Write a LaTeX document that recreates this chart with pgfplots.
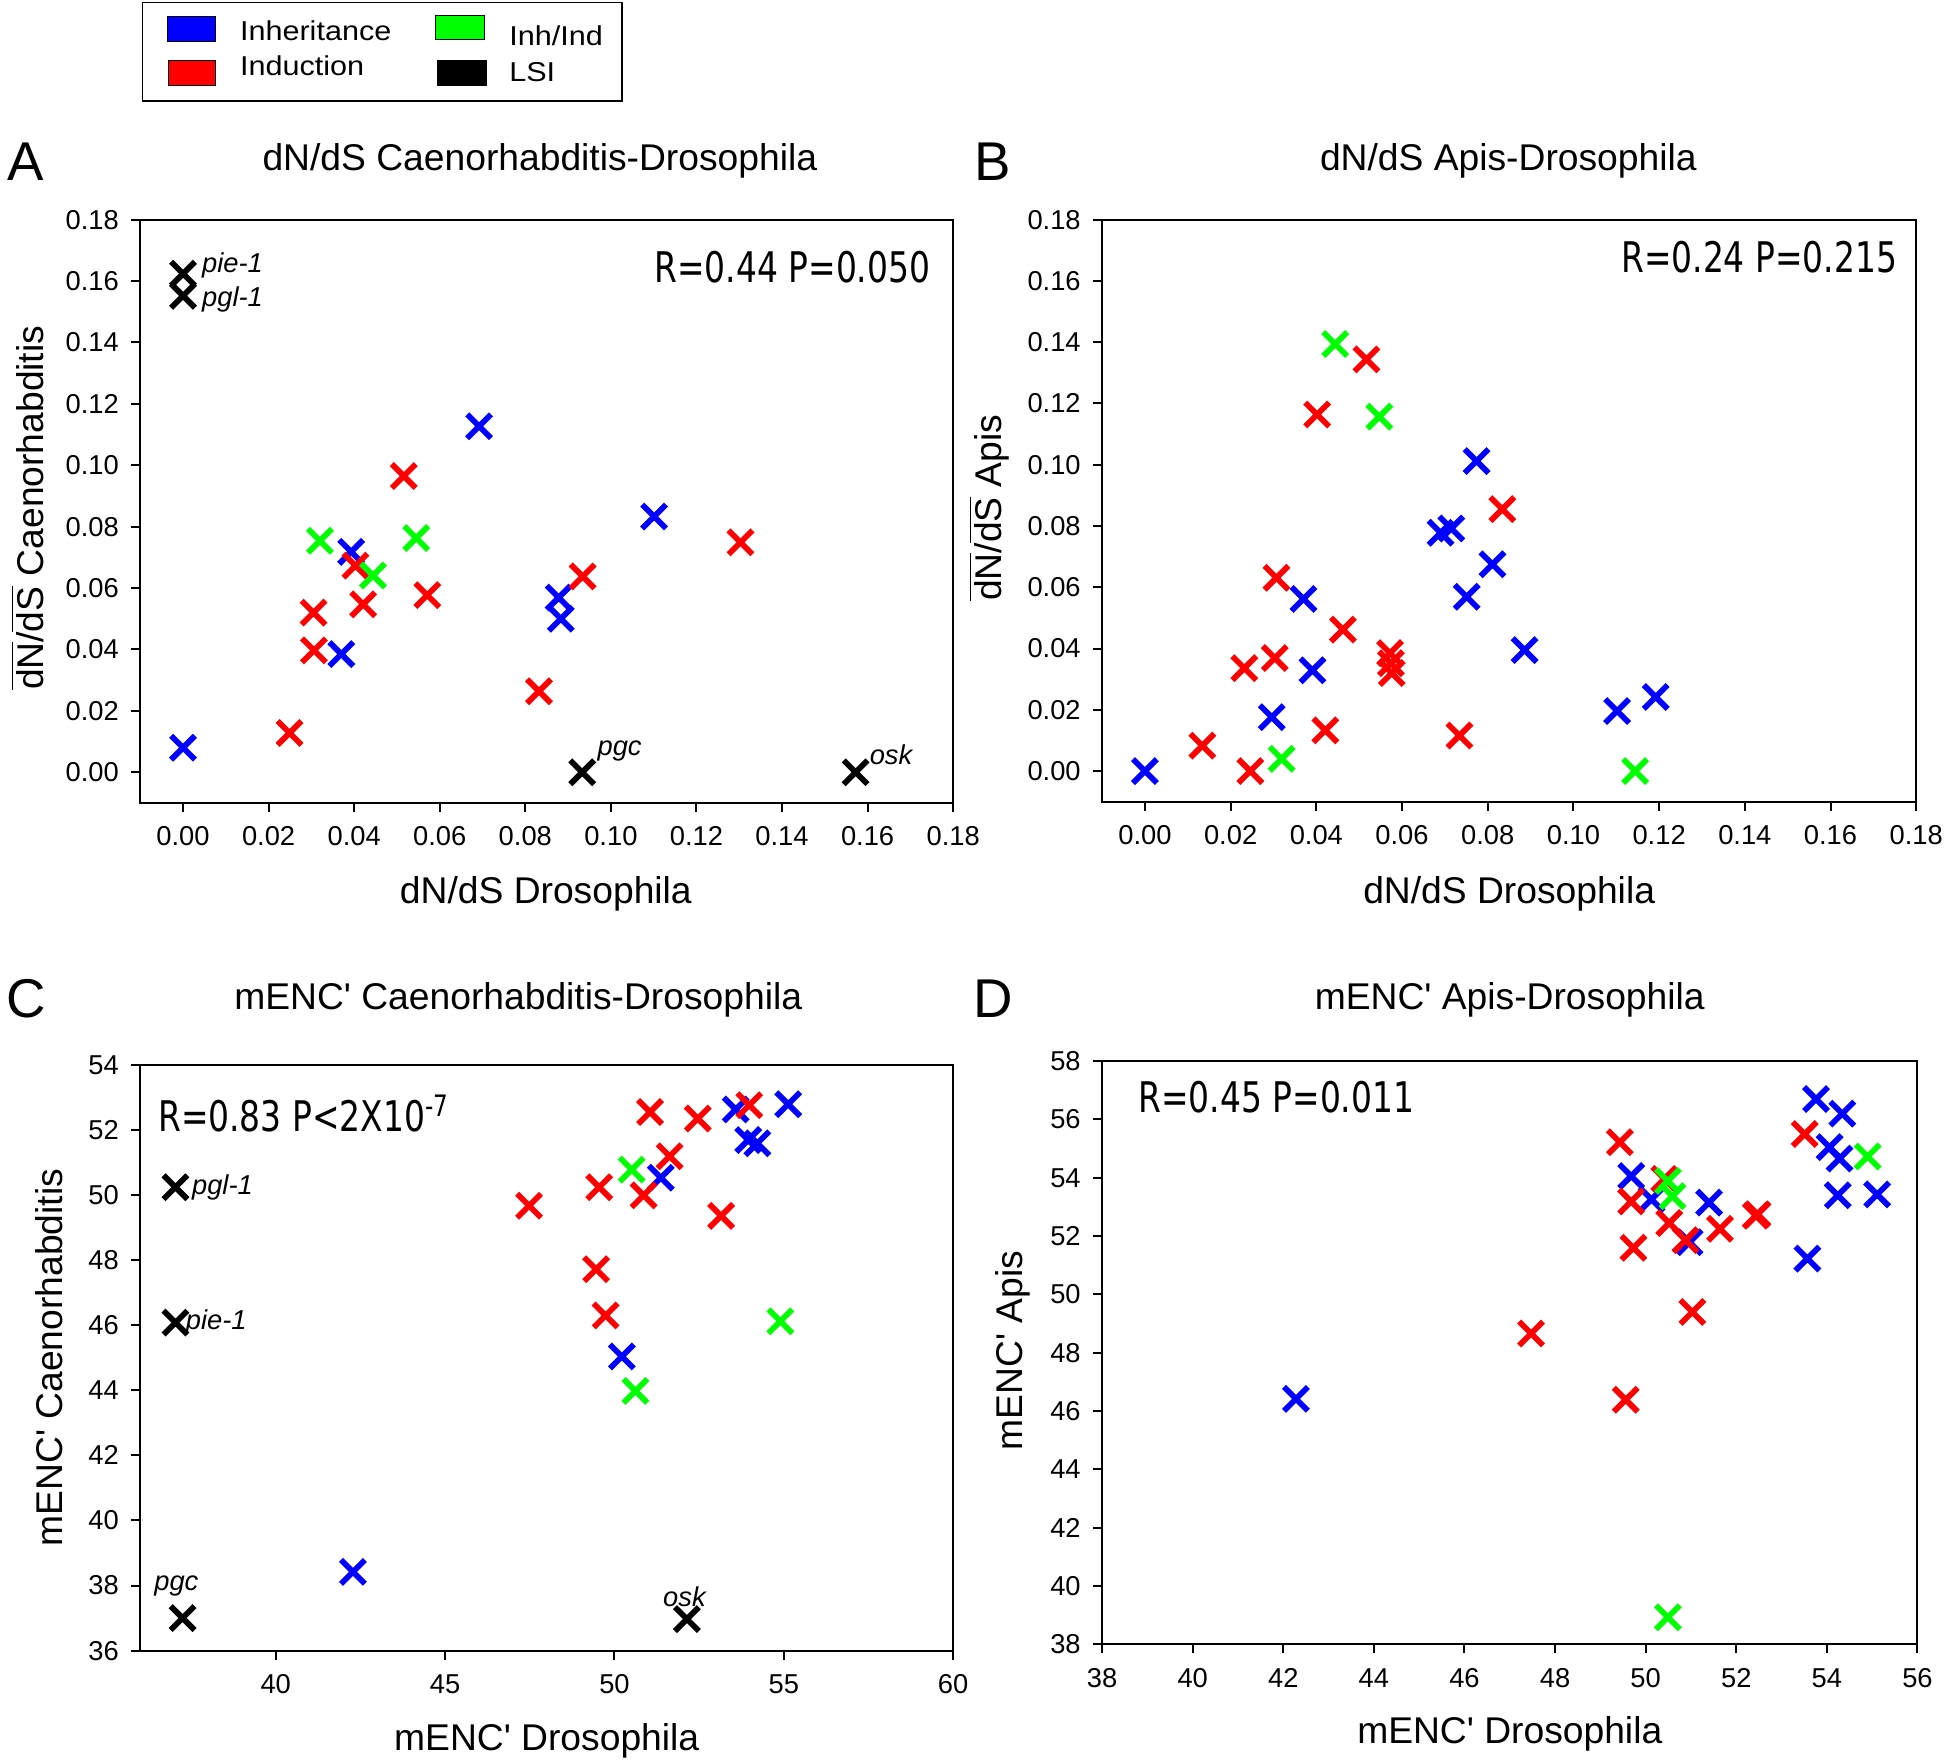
\documentclass[border=0pt]{standalone}
\usepackage{pgfplots}
\pgfplotsset{compat=1.18}
\usepackage{fontspec}
\setmainfont{Liberation Sans}[Ligatures=TeXOff]
\newfontfamily\rfont[FakeStretch=0.78]{DejaVu Sans}
\newfontfamily\legfont[FakeStretch=1.12]{Liberation Sans}
\definecolor{cblue}{RGB}{0,0,255}
\definecolor{cred}{RGB}{255,0,0}
\definecolor{cgreen}{RGB}{0,255,0}
\pgfplotsset{
  panel/.style={
    scale only axis, anchor=south west, clip=false,
    axis line style={line width=0.8pt},
    tick pos=left, tick align=outside, major tick length=3.6pt,
    every tick/.style={line width=0.8pt, black},
    tick label style={font=\fontsize{11}{13}\selectfont},
    yticklabel style={xshift=-1.5pt},
    xticklabel style={yshift=-2.5pt},
    /pgf/number format/assume math mode=true,
  },
  dnds/.style={
    xmin=-0.01, xmax=0.18, ymin=-0.01, ymax=0.18,
    xtick={0,0.02,0.04,0.06,0.08,0.10,0.12,0.14,0.16,0.18},
    ytick={0,0.02,0.04,0.06,0.08,0.10,0.12,0.14,0.16,0.18},
    xticklabel style={/pgf/number format/.cd, fixed, fixed zerofill, precision=2},
    yticklabel style={/pgf/number format/.cd, fixed, fixed zerofill, precision=2},
  },
  pts/.style={only marks, mark=x, mark size=6.8pt, color=#1, mark options={line width=2.3pt}},
}
\newcommand{\lblfont}{\fontsize{15}{18}\selectfont}
\newcommand{\rtxt}{\rfont\fontsize{17}{20}\selectfont}
\newcommand{\gfont}{\fontsize{11}{13}\selectfont\itshape}
\begin{document}
\begin{tikzpicture}
\path[use as bounding box] (0,0) rectangle (784pt,710.5pt);

% ---------------- Legend ----------------
\draw[line width=0.6pt] (57.45pt,709.45pt) rectangle (250.55pt,669.8pt);
\draw[fill=cblue, line width=0.4pt] (67.3pt,703.8pt) rectangle (86.85pt,693.8pt);
\draw[fill=cred, line width=0.4pt] (68pt,686.05pt) rectangle (87pt,676.15pt);
\draw[fill=cgreen, line width=0.4pt] (175.5pt,704.2pt) rectangle (195pt,694.45pt);
\draw[fill=black, line width=0.4pt] (176.4pt,686.15pt) rectangle (196pt,676pt);
\node[anchor=base west, inner sep=0pt, font=\legfont\fontsize{11}{13}\selectfont] at (96.5pt,694.05pt) {Inheritance};
\node[anchor=base west, inner sep=0pt, font=\legfont\fontsize{11}{13}\selectfont] at (96.5pt,680pt) {Induction};
\node[anchor=base west, inner sep=0pt, font=\legfont\fontsize{11}{13}\selectfont] at (205pt,692.2pt) {Inh/Ind};
\node[anchor=base west, inner sep=0pt, font=\legfont\fontsize{11}{13}\selectfont] at (205pt,677.5pt) {LSI};

% panel letters
\node[font=\fontsize{22}{24}\selectfont] at (10.5pt,645.5pt) {A};
\node[font=\fontsize{22}{24}\selectfont] at (400pt,645.5pt) {B};
\node[font=\fontsize{22}{24}\selectfont] at (10.5pt,308pt) {C};
\node[font=\fontsize{22}{24}\selectfont] at (400pt,308pt) {D};

% ---------------- Panel A ----------------
\begin{axis}[panel, dnds, at={(56.5pt,387pt)}, width=327.5pt, height=235pt]
\addplot[pts=cblue] coordinates {(0,0.008) (0.0370,0.0385) (0.0393,0.0718) (0.0692,0.1127) (0.0878,0.0569) (0.0883,0.0500) (0.1101,0.0833)};
\addplot[pts=cred] coordinates {(0.0249,0.0128) (0.0305,0.0520) (0.0306,0.0397) (0.0403,0.0673) (0.0421,0.0547) (0.0516,0.0965) (0.0571,0.0577) (0.0934,0.0638) (0.0832,0.0264) (0.1303,0.0749)};
\addplot[pts=cgreen] coordinates {(0.0320,0.0754) (0.0444,0.0641) (0.0545,0.0763)};
\addplot[pts=black] coordinates {(0,0.1624) (0,0.1552) (0.0933,0) (0.1572,0)};
\node[anchor=west, inner sep=0pt, font=\gfont] at (axis cs:0,0.1624) [xshift=7.5pt, yshift=3.5pt] {pie-1};
\node[anchor=west, inner sep=0pt, font=\gfont] at (axis cs:0,0.1552) [xshift=7.5pt, yshift=-1.5pt] {pgl-1};
\node[anchor=west, inner sep=0pt, font=\gfont] at (axis cs:0.0933,0) [xshift=6pt, yshift=8.5pt] {pgc};
\node[anchor=west, inner sep=0pt, font=\gfont] at (axis cs:0.1572,0) [xshift=5.5pt, yshift=7pt] {osk};
\node[anchor=east, inner sep=0pt, font=\rtxt] at (axis description cs:0.9725,0.919) {R=0.44 P=0.050};
\node[font=\lblfont] at (axis description cs:0.4916,1) [yshift=23.5pt] {dN/dS Caenorhabditis-Drosophila};
\node[font=\lblfont] at (axis description cs:0.499,0) [yshift=-36.5pt] {dN/dS Drosophila};
\node[font=\lblfont, rotate=90] at (axis description cs:-0.139,0.506) {$\overline{\mbox{dN}}$/$\overline{\mbox{dS}}$ Caenorhabditis};
\end{axis}

% ---------------- Panel B ----------------
\begin{axis}[panel, dnds, at={(444pt,387.5pt)}, width=328pt, height=234.5pt]
\addplot[pts=cblue] coordinates {(0,0) (0.0296,0.0176) (0.0370,0.0562) (0.0391,0.0329) (0.0690,0.0778) (0.0715,0.0792) (0.0774,0.1012) (0.0811,0.0675) (0.0751,0.0569) (0.0886,0.0395) (0.1102,0.0196) (0.1192,0.0242)};
\addplot[pts=cred] coordinates {(0.0134,0.0083) (0.0246,0) (0.0232,0.0336) (0.0303,0.0369) (0.0307,0.0631) (0.0402,0.1164) (0.0421,0.0133) (0.0462,0.0462) (0.0517,0.1344) (0.0572,0.0385) (0.0574,0.0352) (0.0576,0.0320) (0.0734,0.0116) (0.0834,0.0855)};
\addplot[pts=cgreen] coordinates {(0.0444,0.1394) (0.0547,0.1157) (0.0319,0.0040) (0.1144,0)};
\node[anchor=east, inner sep=0pt, font=\rtxt] at (axis description cs:0.977,0.936) {R=0.24 P=0.215};
\node[font=\lblfont] at (axis description cs:0.499,1) [yshift=23.5pt] {dN/dS Apis-Drosophila};
\node[font=\lblfont] at (axis description cs:0.5,0) [yshift=-37pt] {dN/dS Drosophila};
\node[font=\lblfont, rotate=90] at (axis description cs:-0.1387,0.505) {$\overline{\mbox{dN}}$/$\overline{\mbox{dS}}$ Apis};
\end{axis}

% ---------------- Panel C ----------------
\begin{axis}[panel, at={(56.5pt,45.5pt)}, width=327.5pt, height=236pt,
  xmin=36, xmax=60, ymin=36, ymax=54,
  xtick={40,45,50,55,60}, ytick={36,38,40,42,44,46,48,50,52,54}]
\addplot[pts=cblue] coordinates {(42.28,38.42) (50.22,45.04) (51.37,50.53) (53.58,52.63) (55.13,52.79) (53.95,51.69) (54.22,51.59)};
\addplot[pts=cred] coordinates {(47.48,49.67) (49.55,50.24) (50.86,49.99) (51.05,52.55) (51.63,51.19) (52.46,52.35) (53.15,49.36) (53.98,52.76) (49.46,47.72) (49.74,46.30)};
\addplot[pts=cgreen] coordinates {(50.51,50.78) (50.62,43.98) (54.90,46.12)};
\addplot[pts=black] coordinates {(37.04,50.24) (37.04,46.08) (37.25,37.0) (52.14,36.97)};
\node[anchor=west, inner sep=0pt, font=\gfont] at (axis cs:37.04,50.24) [xshift=6.5pt] {pgl-1};
\node[anchor=west, inner sep=0pt, font=\gfont] at (axis cs:37.04,46.08) [xshift=4pt] {pie-1};
\node[inner sep=0pt, font=\gfont] at (axis cs:37.25,37.0) [xshift=-2.5pt, yshift=13pt] {pgc};
\node[inner sep=0pt, font=\gfont] at (axis cs:52.14,36.97) [xshift=-1pt, yshift=9pt] {osk};
\node[anchor=west, inner sep=0pt, font=\rtxt] at (axis description cs:0.0214,0.917) {R=0.83 P<2X10\textsuperscript{-7}};
\node[font=\lblfont] at (axis description cs:0.465,1) [yshift=26pt] {mENC' Caenorhabditis-Drosophila};
\node[font=\lblfont] at (axis description cs:0.5,0) [yshift=-36.5pt] {mENC' Drosophila};
\node[font=\lblfont, rotate=90] at (axis description cs:-0.1115,0.5) {mENC' Caenorhabditis};
\end{axis}

% ---------------- Panel D ----------------
\begin{axis}[panel, at={(444pt,48pt)}, width=328.5pt, height=235pt,
  xmin=38, xmax=56, ymin=38, ymax=58,
  xtick={38,40,42,44,46,48,50,52,54,56}, ytick={38,40,42,44,46,48,50,52,54,56,58}]
\addplot[pts=cblue] coordinates {(42.28,46.42) (49.68,54.06) (50.13,53.26) (50.97,51.79) (51.40,53.15) (53.57,51.23) (53.76,56.70) (54.34,56.20) (54.06,55.05) (54.28,54.66) (54.24,53.40) (55.11,53.43)};
\addplot[pts=cred] coordinates {(49.43,55.22) (49.68,53.19) (49.73,51.60) (49.56,46.39) (47.47,48.66) (50.41,53.96) (50.52,52.45) (50.88,51.86) (51.03,49.40) (51.64,52.25) (52.43,52.70) (52.47,52.75) (53.51,55.50)};
\addplot[pts=cgreen] coordinates {(50.49,53.89) (50.59,53.37) (54.90,54.73) (50.49,38.93)};
\node[anchor=west, inner sep=0pt, font=\rtxt] at (axis description cs:0.044,0.938) {R=0.45 P=0.011};
\node[font=\lblfont] at (axis description cs:0.5,1) [yshift=24.5pt] {mENC' Apis-Drosophila};
\node[font=\lblfont] at (axis description cs:0.5,0) [yshift=-36pt] {mENC' Drosophila};
\node[font=\lblfont, rotate=90] at (axis description cs:-0.1096,0.504) {mENC' Apis};
\end{axis}
\end{tikzpicture}
\end{document}
